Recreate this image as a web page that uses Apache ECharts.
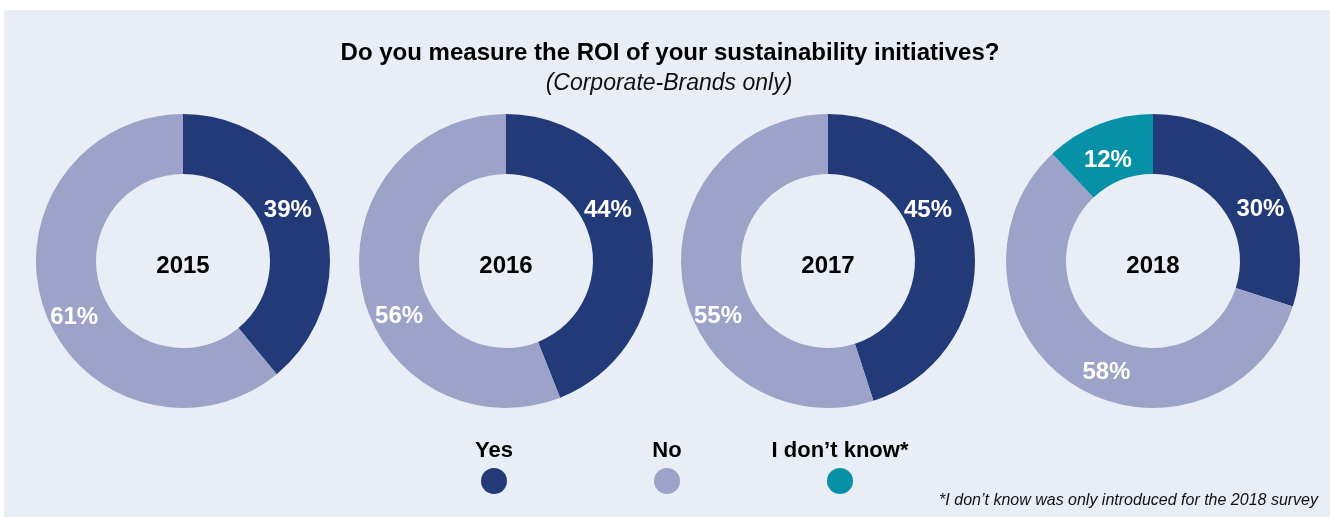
<!DOCTYPE html>
<html>
<head>
<meta charset="utf-8">
<script src="https://cdn.jsdelivr.net/npm/echarts@6/dist/echarts.min.js"></script>
<style>
  html, body { margin: 0; padding: 0; background: #ffffff; }
  #chart { width: 1333px; height: 518px; }
</style>
</head>
<body>
<div id="chart"></div>
<script>
// Survey answers per year (percent of respondents)
const years = ['2015', '2016', '2017', '2018'];
const answers = ['Yes', 'No', 'I don\u2019t know*'];
const yesValues = [39, 44, 45, 30];
const noValues = [61, 56, 55, 58];
const dontKnowValues = [null, null, null, 12];

const titleText = 'Do you measure the ROI of your sustainability initiatives?';
const subtitleText = '(Corporate-Brands only)';
const footnoteText = '*I don\u2019t know was only introduced for the 2018 survey';

const colors = { 'Yes': '#233a78', 'No': '#9da2c8', 'I don\u2019t know*': '#0691a6' };
const FONT = '"Liberation Sans", Arial, Helvetica, sans-serif';

// Layout: donut centres and where each percentage label sits relative to its centre
const centersX = [183, 506, 828, 1153];
const centerY = 261;
const R_INNER = 87, R_OUTER = 147;
const labelSpots = [
  [[102, -50], [-106, 55], null],
  [[99, -50], [-104, 55], null],
  [[97, -50], [-107, 55], null],
  [[105, -50], [-45, 109], [-44, -98]]
];

const series = years.map((yr, i) => {
  const values = [yesValues[i], noValues[i], dontKnowValues[i]];
  const total = values.reduce((s, v) => s + (v || 0), 0);
  const data = [];
  let acc = 0;
  answers.forEach((name, k) => {
    const v = values[k];
    if (v == null) return;
    // default inside-label position: middle of the ring at the slice's mid angle
    const mid = (acc + v / 2) / total * 2 * Math.PI;
    acc += v;
    const rm = (R_INNER + R_OUTER) / 2;
    const dx = rm * Math.sin(mid), dy = -rm * Math.cos(mid);
    const spot = labelSpots[i][k];
    data.push({
      name: name,
      value: v,
      itemStyle: { color: colors[name] },
      label: { offset: [spot[0] - dx, spot[1] - dy] }
    });
  });
  return {
    type: 'pie',
    name: yr,
    center: [centersX[i], centerY],
    radius: [R_INNER, R_OUTER],
    startAngle: 90,
    clockwise: true,
    silent: true,
    avoidLabelOverlap: false,
    itemStyle: { borderWidth: 0 },
    label: {
      show: true,
      position: 'inside',
      formatter: '{c}%',
      color: '#ffffff',
      fontFamily: FONT,
      fontWeight: 'bold',
      fontSize: 24
    },
    labelLine: { show: false },
    emphasis: { disabled: true },
    data: data
  };
});

const graphics = [
  { type: 'rect', shape: { x: 4, y: 10, width: 1326, height: 507 }, style: { fill: '#e9edf5' }, z: -10 },
  { type: 'text', x: 670, y: 53, style: { text: titleText, font: 'bold 24px ' + FONT, fill: '#000', textAlign: 'center', textVerticalAlign: 'middle' } },
  { type: 'text', x: 669, y: 84, style: { text: subtitleText, font: 'italic 23px ' + FONT, fill: '#111', textAlign: 'center', textVerticalAlign: 'middle' } },
  { type: 'text', x: 1318, y: 501, style: { text: footnoteText, font: 'italic 16px ' + FONT, fill: '#111', textAlign: 'right', textVerticalAlign: 'middle' } }
];
years.forEach((yr, i) => {
  graphics.push({ type: 'text', x: centersX[i], y: centerY + 5, style: { text: yr, font: 'bold 24px ' + FONT, fill: '#000', textAlign: 'center', textVerticalAlign: 'middle' } });
});

// Legend: label text sits above each round marker
const legendX = [494, 667, 840];
answers.forEach((name, k) => {
  graphics.push({ type: 'text', x: legendX[k], y: 451, style: { text: name, font: 'bold 22px ' + FONT, fill: '#000', textAlign: 'center', textVerticalAlign: 'middle' } });
});
const legends = answers.map((name, k) => ({
  data: [name],
  left: legendX[k] - 13,
  top: 468,
  padding: 0,
  icon: 'circle',
  itemWidth: 26,
  itemHeight: 26,
  selectedMode: false,
  formatter: () => '',
  textStyle: { fontSize: 1 }
}));

const chart = echarts.init(document.getElementById('chart'), null, { renderer: 'canvas' });
chart.setOption({
  backgroundColor: '#ffffff',
  animation: false,
  graphic: graphics,
  legend: legends,
  series: series
});
</script>
</body>
</html>
